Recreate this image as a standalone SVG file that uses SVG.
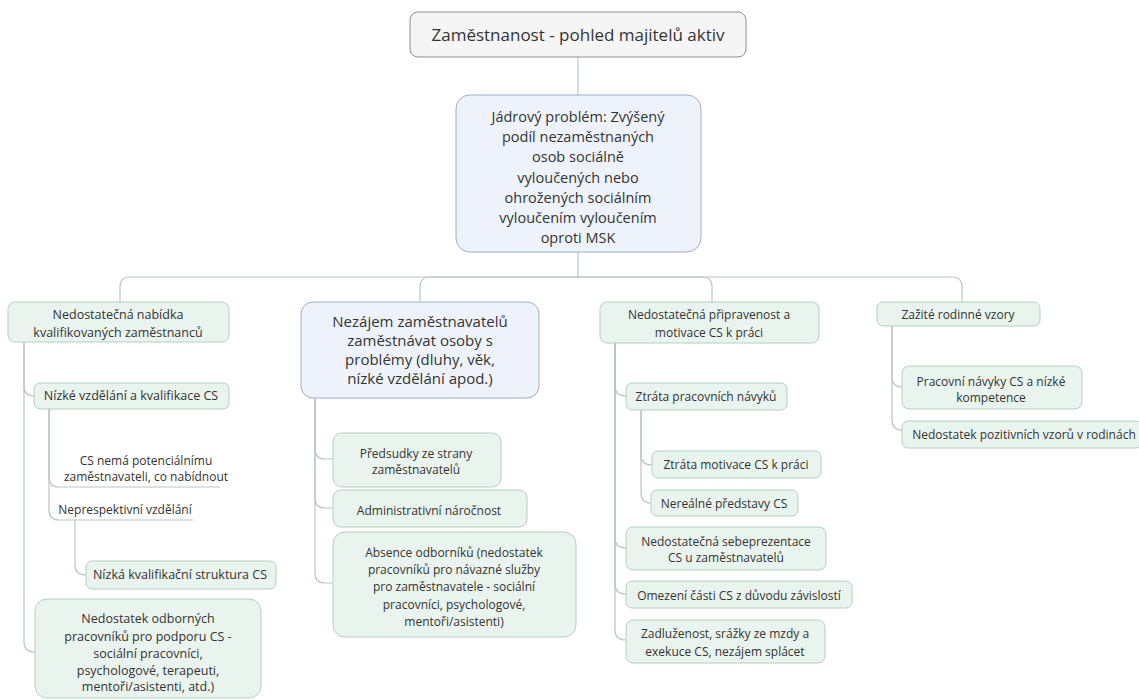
<svg xmlns="http://www.w3.org/2000/svg" width="1139" height="700" viewBox="0 0 1139 700">
<style>
.bg{fill:#ffffff}
.conn path{fill:none;stroke:#b9c6c2;stroke-width:1.2}
.root{fill:#f5f5f5;stroke:#8e8e8e;stroke-width:1}
.core{fill:#eef3fb;stroke:#9cb0c6;stroke-width:1}
.blue{fill:#eef3fb;stroke:#9cb0c6;stroke-width:1}
.green{fill:#eaf4ee;stroke:#b3d0c0;stroke-width:1}
text{font-family:"Open Sans","Noto Sans","Liberation Sans",sans-serif;fill:#333333;text-anchor:middle}
.f18{font-size:17px}
.f15{font-size:14.5px}
.f16{font-size:15px}
.f13{font-size:12.5px}
.f12{font-size:12px}
</style>
<rect class="bg" x="0" y="0" width="1139" height="700"/>
<g id="connectors" class="conn">
<path d="M578,57 V95"/>
<path d="M578,252 V277"/>
<path d="M578,277 H130 Q120,277 120,287 V302"/>
<path d="M578,277 H430 Q420,277 420,287 V302"/>
<path d="M578,277 H702 Q712,277 712,287 V302"/>
<path d="M578,277 H952 Q962,277 962,287 V302"/>
<path d="M24,342 V386 Q24,396 34,396"/>
<path d="M24,342 V642 Q24,652 35,652"/>
<path d="M49,409 V477 Q49,487 59,487 H220"/>
<path d="M49,409 V510 Q49,520 59,520 H193"/>
<path d="M75,520 V565 Q75,575 86,575"/>
<path d="M315,398 V449 Q315,459 325,459 H333"/>
<path d="M315,398 V498 Q315,508 325,508 H333"/>
<path d="M315,398 V573 Q315,583 325,583 H333"/>
<path d="M615,343 V386 Q615,396 626,396"/>
<path d="M615,343 V538 Q615,548 626,548"/>
<path d="M615,343 V584 Q615,594 626,594"/>
<path d="M615,343 V630 Q615,640 626,640"/>
<path d="M641,410 V455 Q641,465 652,465"/>
<path d="M641,410 V493 Q641,503 651,503"/>
<path d="M892,326 V377 Q892,387 902,387"/>
<path d="M892,326 V420 Q892,430 902,430"/>
</g>
<g id="root">
<rect class="root" x="410" y="12" width="336" height="45" rx="8"/>
<text class="f18" x="578" y="41">Zaměstnanost - pohled majitelů aktiv</text>
</g>
<g id="core">
<rect class="core" x="456" y="95" width="245" height="157" rx="14"/>
<text class="f15"><tspan x="578" y="122">Jádrový problém: Zvýšený</tspan><tspan x="578" y="142">podíl nezaměstnaných</tspan><tspan x="578" y="162">osob sociálně</tspan><tspan x="578" y="183">vyloučených nebo</tspan><tspan x="578" y="203">ohrožených sociálním</tspan><tspan x="578" y="223">vyloučením vyloučením</tspan><tspan x="578" y="243">oproti MSK</tspan></text>
</g>
<g id="n-nabidka">
<rect class="green" x="8" y="302" width="221" height="40" rx="7"/>
<text class="f13"><tspan x="118" y="319">Nedostatečná nabídka</tspan><tspan x="118" y="337">kvalifikovaných zaměstnanců</tspan></text>
</g>
<g id="n-nizke-vzdelani">
<rect class="green" x="34" y="383" width="195" height="26" rx="6"/>
<text class="f13" x="131" y="400">Nízké vzdělání a kvalifikace CS</text>
</g>
<g id="n-cs-nema">
<text class="f12"><tspan x="146" y="465">CS nemá potenciálnímu</tspan><tspan x="146" y="481">zaměstnavateli, co nabídnout</tspan></text>
</g>
<g id="n-neprespektivni">
<text class="f12" x="125" y="514">Neprespektivní vzdělání</text>
</g>
<g id="n-nizka-struktura">
<rect class="green" x="86" y="561" width="190" height="28" rx="6"/>
<text class="f13" x="180" y="579">Nízká kvalifikační struktura CS</text>
</g>
<g id="n-nedostatek-odbornych">
<rect class="green" x="35" y="599" width="226" height="99" rx="12"/>
<text class="f13"><tspan x="148" y="623">Nedostatek odborných</tspan><tspan x="148" y="641">pracovníků pro podporu CS -</tspan><tspan x="148" y="658">sociální pracovníci,</tspan><tspan x="148" y="675">psychologové, terapeuti,</tspan><tspan x="148" y="691">mentoři/asistenti, atd.)</tspan></text>
</g>
<g id="n-nezajem">
<rect class="blue" x="301" y="302" width="238" height="96" rx="12"/>
<text class="f16"><tspan x="420" y="327">Nezájem zaměstnavatelů</tspan><tspan x="420" y="346">zaměstnávat osoby s</tspan><tspan x="420" y="365">problémy (dluhy, věk,</tspan><tspan x="420" y="384">nízké vzdělání apod.)</tspan></text>
</g>
<g id="n-predsudky">
<rect class="green" x="333" y="433" width="168" height="54" rx="9"/>
<text class="f12"><tspan x="416" y="458">Předsudky ze strany</tspan><tspan x="416" y="474">zaměstnavatelů</tspan></text>
</g>
<g id="n-administrativni">
<rect class="green" x="333" y="490" width="194" height="37" rx="8"/>
<text class="f12" x="429" y="515">Administrativní náročnost</text>
</g>
<g id="n-absence">
<rect class="green" x="333" y="532" width="243" height="105" rx="12"/>
<text class="f12"><tspan x="454" y="557">Absence odborníků (nedostatek</tspan><tspan x="454" y="574">pracovníků pro návazné služby</tspan><tspan x="454" y="591">pro zaměstnavatele - sociální</tspan><tspan x="454" y="609">pracovníci, psychologové,</tspan><tspan x="454" y="626">mentoři/asistenti)</tspan></text>
</g>
<g id="n-pripravenost">
<rect class="green" x="600" y="302" width="219" height="41" rx="7"/>
<text class="f12"><tspan x="709" y="319">Nedostatečná připravenost a</tspan><tspan x="709" y="337">motivace CS k práci</tspan></text>
</g>
<g id="n-ztrata-navyku">
<rect class="green" x="626" y="383" width="161" height="27" rx="6"/>
<text class="f12" x="706" y="401">Ztráta pracovních návyků</text>
</g>
<g id="n-ztrata-motivace">
<rect class="green" x="652" y="451" width="169" height="27" rx="6"/>
<text class="f12" x="736" y="469">Ztráta motivace CS k práci</text>
</g>
<g id="n-nerealne">
<rect class="green" x="651" y="490" width="147" height="26" rx="6"/>
<text class="f12" x="724" y="508">Nereálné představy CS</text>
</g>
<g id="n-sebeprezentace">
<rect class="green" x="626" y="527" width="200" height="43" rx="7"/>
<text class="f12"><tspan x="726" y="546">Nedostatečná sebeprezentace</tspan><tspan x="726" y="562">CS u zaměstnavatelů</tspan></text>
</g>
<g id="n-omezeni">
<rect class="green" x="626" y="581" width="226" height="27" rx="6"/>
<text class="f12" x="739" y="600">Omezení části CS z důvodu závislostí</text>
</g>
<g id="n-zadluzenost">
<rect class="green" x="626" y="620" width="199" height="43" rx="7"/>
<text class="f12"><tspan x="725" y="638">Zadluženost, srážky ze mzdy a</tspan><tspan x="725" y="656">exekuce CS, nezájem splácet</tspan></text>
</g>
<g id="n-zazite">
<rect class="green" x="877" y="302" width="163" height="24" rx="6"/>
<text class="f12" x="958" y="319">Zažité rodinné vzory</text>
</g>
<g id="n-pracovni-navyky">
<rect class="green" x="902" y="366" width="180" height="43" rx="7"/>
<text class="f12"><tspan x="991" y="386">Pracovní návyky CS a nízké</tspan><tspan x="991" y="402">kompetence</tspan></text>
</g>
<g id="n-pozitivnich">
<rect class="green" x="902" y="421" width="240" height="27" rx="6"/>
<text class="f12" x="1024" y="439">Nedostatek pozitivních vzorů v rodinách</text>
</g>
</svg>
